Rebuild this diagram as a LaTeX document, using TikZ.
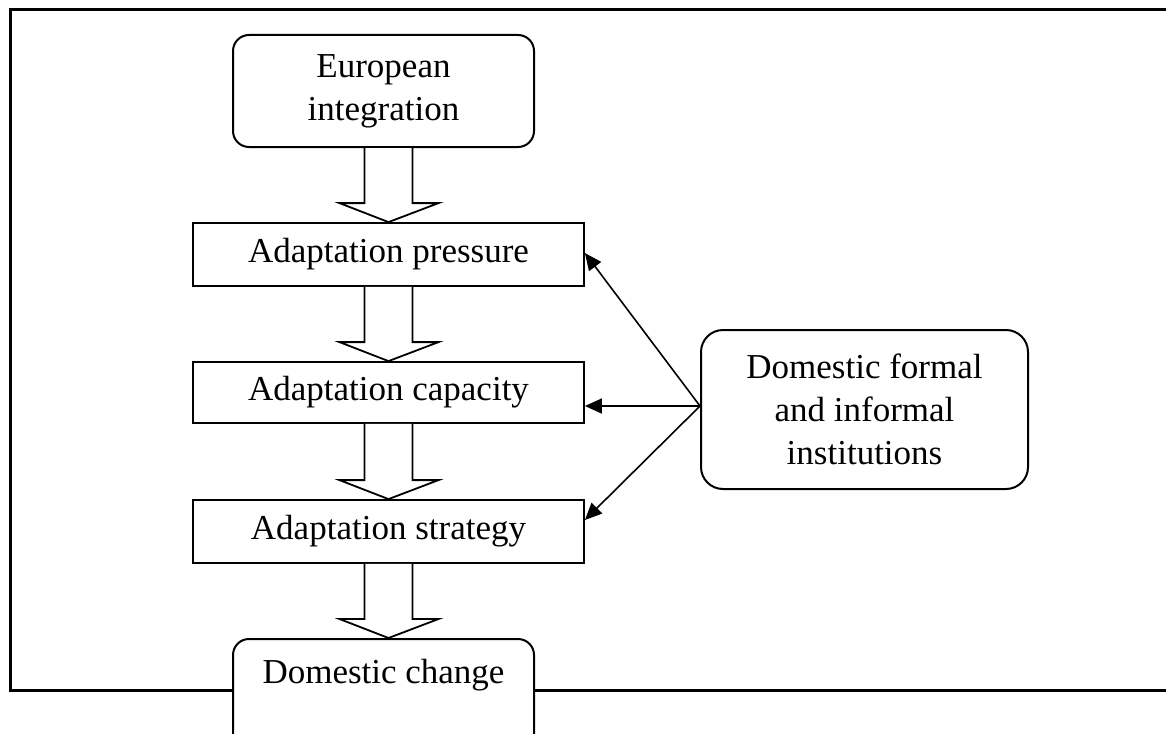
\documentclass[tikz,border=0pt]{standalone}
\usepackage{fontspec}
\setmainfont{Liberation Serif}
\usetikzlibrary{arrows.meta,calc}
\begin{document}
\begin{tikzpicture}[x=1pt,y=-1pt,
  txt/.style={font=\fontsize{35}{43}\selectfont, align=center},
  roundbox/.style={txt, draw, line width=2pt, rounded corners=16pt, fill=white, inner sep=0pt},
  rectbox/.style={txt, draw, line width=1.8pt, fill=white, inner sep=0pt, minimum width=391pt},
  blockarrow/.style={draw, line width=1.8pt, fill=white, line join=miter},
  infl/.style={line width=1.6pt, -{Triangle[length=17pt,width=15pt]}},
  frameline/.style={line width=3pt}
]
\useasboundingbox (0,0) rectangle (1166,733);
\clip (0,0) rectangle (1166,733);

% frame (open on the right)
\draw[frameline] (1170,10) -- (10,10) -- (10,690) -- (1170,690);

% boxes
\node[roundbox, minimum width=301pt, minimum height=112pt] (eu) at (383.5,91) {European\\integration};
\node[rectbox, minimum height=63pt] (pressure) at (388.5,254.5) {Adaptation pressure};
\node[rectbox, minimum height=61pt] (capacity) at (388.5,392.5) {Adaptation capacity};
\node[rectbox, minimum height=63pt] (strategy) at (388.5,531.5) {Adaptation strategy};
\node[roundbox, minimum width=301pt, anchor=north, text height=44pt, text depth=70pt] (change) at (383.5,638) {Domestic change};
\node[roundbox, rounded corners=22pt, minimum width=327pt, minimum height=159pt] (inst) at (864.5,409.5) {Domestic formal\\and informal\\institutions};

% block arrows (all on the column of the rectangular boxes)
\coordinate (col) at (pressure.north);
\foreach \a/\b in {eu/pressure, pressure/capacity, capacity/strategy, strategy/change}{
  \coordinate (tail-\a) at (col |- \a.south);
  \coordinate (tip-\a) at (col |- \b.north);
  \draw[blockarrow]
    ($(tail-\a)+(-24,0)$) -- ($(tip-\a)+(-24,-19)$) -- ($(tip-\a)+(-49,-19)$)
    -- (tip-\a) -- ($(tip-\a)+(50,-19)$) -- ($(tip-\a)+(24,-19)$)
    -- ($(tail-\a)+(24,0)$);
}

% influence arrows
\coordinate (src) at ([yshift=3.5pt]inst.west);
\draw[infl] (src) -- ([yshift=1.5pt]pressure.east);
\draw[infl] (src) -- (capacity.east |- src);
\draw[infl] (src) -- ([yshift=11.5pt]strategy.east);
\end{tikzpicture}
\end{document}
